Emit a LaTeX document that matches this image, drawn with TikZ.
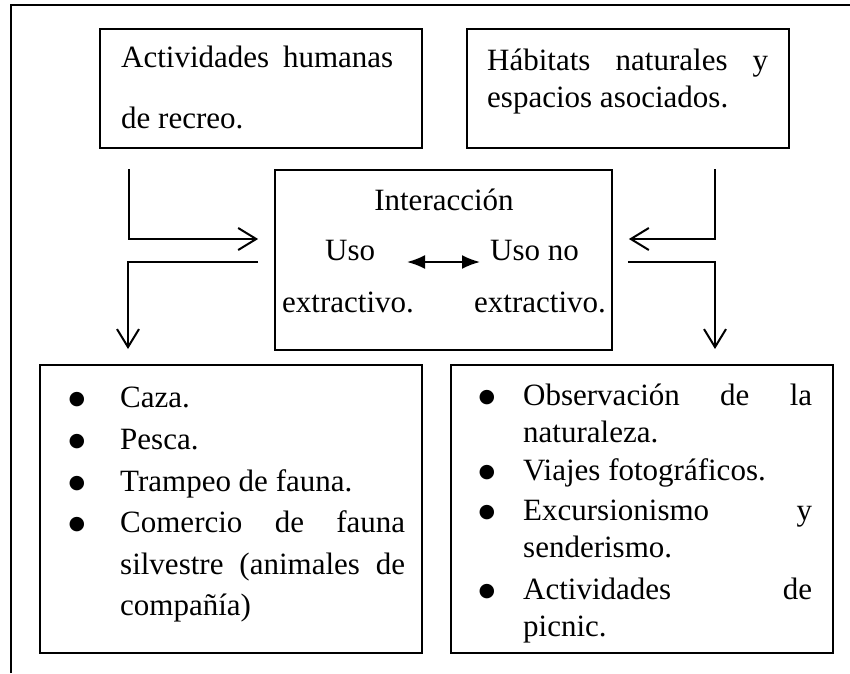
\documentclass[tikz,border=0pt]{standalone}
\usepackage{fontspec}
\setmainfont{Liberation Serif}
\newfontfamily\bulfont{DejaVu Sans}
\usetikzlibrary{arrows.meta}
\tikzset{
  box/.style={draw, line width=1.8pt, rectangle, inner sep=0pt},
  txt/.style={inner sep=0pt, anchor=base west, font=\fontsize{31pt}{37pt}\selectfont},
  ctr/.style={inner sep=0pt, anchor=base, font=\fontsize{31pt}{37pt}\selectfont},
  bul/.style={inner sep=0pt, anchor=base, yshift=3pt, font=\bulfont\fontsize{19pt}{22pt}\selectfont},
  arr/.style={line width=2pt, -{Straight Barb[length=18pt,width=22pt,line width=2pt]}},
  dbl/.style={line width=2pt, {Latex[length=18pt,width=14pt]}-{Latex[length=18pt,width=14pt]}},
  frame/.style={line width=2pt}
}
\begin{document}
\begin{tikzpicture}[x=1pt,y=-1pt]
\useasboundingbox (0,0) rectangle (850,673);
% outer frame
\coordinate (f1) at (11,673);
\coordinate (f2) at (11,5);
\coordinate (f3) at (850,5);
\draw[frame] (f1) -- (f2) -- (f3);
% boxes
\node[box, minimum width=322pt, minimum height=119pt] (boxA) at (261,88.5) {};
\node[box, minimum width=322pt, minimum height=119pt] (boxB) at (628,88.5) {};
\node[box, minimum width=337pt, minimum height=180pt] (cbox) at (443.5,260) {};
\node[box, minimum width=382pt, minimum height=288pt] (blbox) at (231,509) {};
\node[box, minimum width=382pt, minimum height=288pt] (brbox) at (642,509) {};
% box A text
\node[txt] (a1t) at (121,67) {\hbox to 272pt{Actividades\hfill humanas}};
\node[txt] (a2t) at (121,128) {de recreo.};
% box B text
\node[txt] (b1t) at (487,70) {\hbox to 281pt{Hábitats\hfill naturales\hfill y}};
\node[txt] (b2t) at (487,107) {espacios asociados.};
% center text
\node[ctr] (inter) at (444,210) {Interacción};
\node[txt] (uso1) at (325,260) {Uso};
\node[txt] (ext1) at (282,312) {extractivo.};
\node[txt] (uso2) at (490,260) {Uso no};
\node[txt] (ext2) at (474,312) {extractivo.};
\coordinate (da) at (407,262);
\coordinate (db) at (480,262);
\draw[dbl] (da) -- (db);
% left arrows
\coordinate (la) at (129,169);
\coordinate (lb) at (128,349);
\draw[arr] (la) |- ([xshift=-16pt,yshift=21pt]cbox.west);
\draw[arr] ([xshift=-16pt,yshift=-2pt]cbox.west) -| (lb);
% right arrows
\coordinate (ra) at (715,169);
\coordinate (rb) at (715,349);
\draw[arr] (ra) |- ([xshift=16pt,yshift=21pt]cbox.east);
\draw[arr] ([xshift=15pt,yshift=-2pt]cbox.east) -| (rb);
% bottom-left list
\node[bul] (lb1) at (77,407) {●};
\node[txt] (l1) at (120,407) {Caza.};
\node[bul] (lb2) at (77,449) {●};
\node[txt] (l2) at (120,449) {Pesca.};
\node[bul] (lb3) at (77,491) {●};
\node[txt] (l3) at (120,491) {Trampeo de fauna.};
\node[bul] (lb4) at (77,532) {●};
\node[txt] (l4) at (120,532) {\hbox to 285pt{Comercio\hfill de\hfill fauna}};
\node[txt] (l5) at (120,574) {\hbox to 285pt{silvestre\hfill (animales\hfill de}};
\node[txt] (l6) at (120,615) {compañía)};
% bottom-right list
\node[bul] (rb1) at (487,405) {●};
\node[txt] (r1) at (523,405) {\hbox to 289pt{Observación\hfill de\hfill la}};
\node[txt] (r2) at (523,442) {naturaleza.};
\node[bul] (rb2) at (487,480) {●};
\node[txt] (r3) at (523,480) {Viajes fotográficos.};
\node[bul] (rb3) at (487,520) {●};
\node[txt] (r4) at (523,520) {\hbox to 289pt{Excursionismo\hfill y}};
\node[txt] (r5) at (523,557) {senderismo.};
\node[bul] (rb4) at (487,599) {●};
\node[txt] (r6) at (523,599) {\hbox to 289pt{Actividades\hfill de}};
\node[txt] (r7) at (523,636) {picnic.};
\end{tikzpicture}
\end{document}
